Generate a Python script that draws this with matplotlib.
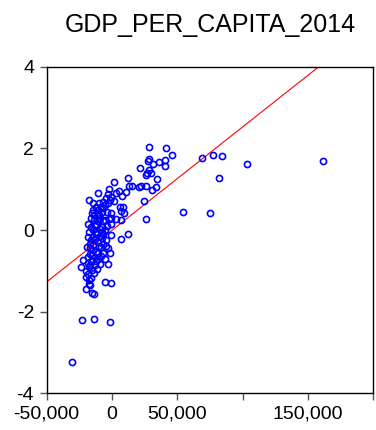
import numpy as np
import matplotlib
matplotlib.use("Agg")
import matplotlib.pyplot as plt
from matplotlib.ticker import FixedLocator, FixedFormatter

plt.rcParams['font.family'] = ['Liberation Sans', 'DejaVu Sans']
plt.rcParams['axes.unicode_minus'] = False

# GDP per capita (x) vs standardized value (y)
gdp = np.array([
    28.7, 41.5, 46.0, 28.7, 40.9, 35.6, 31.2, 40.7, 21.6, 28.7,
    26.7, 30.0, 34.6, 12.5, 1.3, 13.0, 15.2, 20.6, 21.9, 26.4,
    33.8, 31.0, 10.4, 5.1, 2.8, -2.3, -3.0, -10.7, 7.4, -1.0,
    -4.6, -1.8, 1.8, -17.2, -14.5, -9.9, -6.9, -5.6, -2.7, 24.7,
    -8.6, -11.9, 5.9, 8.7, -14.7, -10.4, 7.2, 8.9, 54.4, -15.2,
    -7.6, -0.8, -13.7, -9.6, 3.4, 6.9, 26.2, -1.0, -2.5, -5.3,
    -6.9, -10.4, -13.4, -18.3, -16.2, -11.9, -7.9, -1.0, -5.3, -9.1,
    -14.5, -11.9, -0.5, -18.3, -14.5, -9.4, -7.3, -4.8, 12.5, 7.2,
    -13.2, -10.7, -17.0, -19.1, -14.5, -6.9, -4.3, -8.1, -17.0, -14.5,
    -3.0, -11.9, -6.9, -1.2, -17.0, -18.3, -13.2, -8.6, -22.1, -15.7,
    -10.7, -23.9, -17.5, -13.2, -9.4, -2.7, -19.5, -14.9, -11.4, -18.3,
    -19.5, -15.7, -17.5, -5.3, -1.0, -17.5, -16.5, -19.5, -15.2, -13.4,
    -23.1, -13.7, -1.5, -30.9,
    69.1, 77.3, 84.1, 103.4, 161.1, 82.1, 75.2, 27.7, 26.4,
    -16.0, -12.5, -8.0, -10.0, -15.5, -12.0, -16.5, -11.0, -5.0, -13.0,
    -9.0, -4.0, -11.0, -7.0, -16.0, -18.0, -14.0, -6.5, -3.5, -17.5,
]) * 1000

value = np.array([
    2.04, 2.00, 1.83, 1.73, 1.71, 1.67, 1.62, 1.57, 1.52, 1.47,
    1.39, 1.40, 1.24, 1.28, 1.18, 1.08, 1.08, 1.05, 1.09, 1.08,
    1.06, 0.98, 0.94, 0.96, 0.91, 1.00, 0.88, 0.91, 0.84, 0.82,
    0.78, 0.73, 0.72, 0.73, 0.67, 0.67, 0.69, 0.61, 0.65, 0.72,
    0.57, 0.56, 0.57, 0.57, 0.49, 0.49, 0.47, 0.41, 0.44, 0.42,
    0.44, 0.42, 0.36, 0.38, 0.28, 0.24, 0.27, 0.29, 0.26, 0.24,
    0.23, 0.21, 0.24, 0.16, 0.08, 0.15, 0.08, 0.15, 0.00, 0.03,
    0.00, -0.04, -0.11, -0.18, -0.16, -0.15, -0.20, -0.24, -0.10, -0.21,
    -0.23, -0.29, -0.33, -0.41, -0.37, -0.33, -0.39, -0.42, -0.45, -0.49,
    -0.45, -0.53, -0.57, -0.57, -0.59, -0.65, -0.65, -0.64, -0.73, -0.75,
    -0.72, -0.90, -0.90, -0.86, -0.82, -0.82, -1.00, -0.98, -0.96, -1.08,
    -1.14, -1.18, -1.22, -1.27, -1.29, -1.31, -1.35, -1.44, -1.54, -1.57,
    -2.20, -2.18, -2.25, -3.23,
    1.77, 1.84, 1.81, 1.62, 1.68, 1.27, 0.42, 1.68, 1.35,
    -0.25, -0.10, -0.05, -0.40, -0.60, -0.75, -0.85, -0.55, -0.70, 0.10,
    0.30, 0.45, 0.40, 0.55, 0.30, -0.80, -1.05, -0.10, 0.10, -0.05,
])

# fitted line
fit_intercept = -0.005
fit_slope = 2.53e-5
fit_x = np.array([-50000, 200000])
fit_y = fit_intercept + fit_slope * fit_x

xticks = [-50000, 0, 50000, 100000, 150000, 200000]
xticklabels = ['-50,000', '0', '50,000', '', '150,000', '']
yticks = [-4, -2, 0, 2, 4]

fig = plt.figure(figsize=(3.76, 4.30), dpi=100)
ax = fig.add_axes([0.124, 0.085, 0.869, 0.760])

ax.plot(fit_x, fit_y, color='red', lw=0.8, zorder=2)
ax.plot(gdp, value, 'o', ms=4.4, mfc='none', mec='#0000ff', mew=1.2, zorder=3)

ax.set_xlim(-50000, 200000)
ax.set_ylim(-4, 4)
ax.xaxis.set_major_locator(FixedLocator(xticks))
ax.xaxis.set_major_formatter(FixedFormatter(xticklabels))
ax.set_yticks(yticks)

ax.tick_params(axis='both', labelsize=14, color='#555555', length=5, width=1, pad=4)
for s in ax.spines.values():
    s.set_linewidth(1.0)

ax.set_title('GDP_PER_CAPITA_2014', fontsize=18, pad=25)

fig.savefig('out.png', dpi=100)
